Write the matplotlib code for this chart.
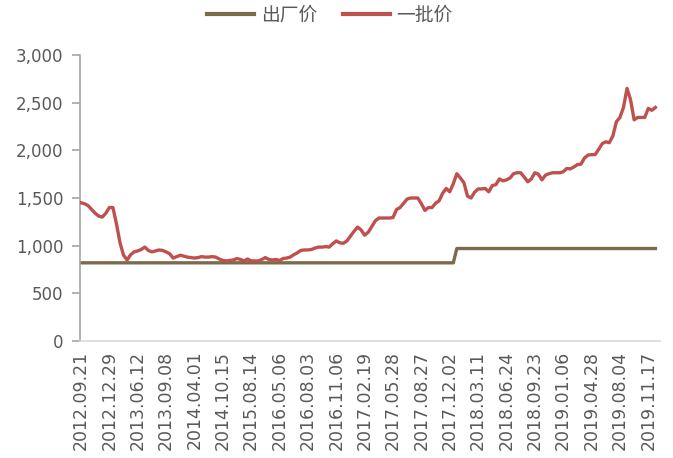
#! /usr/bin/env python

'''
Factory price vs. wholesale price, weekly series.
'''

import matplotlib
matplotlib.use('Agg')
import matplotlib.pyplot as plt

tick_labels = ['2012.09.21', '2012.12.29', '2013.06.12', '2013.09.08',
               '2014.04.01', '2014.10.15', '2015.08.14', '2016.05.06',
               '2016.08.03', '2016.11.06', '2017.02.19', '2017.05.28',
               '2017.08.27', '2017.12.02', '2018.03.11', '2018.06.24',
               '2018.09.23', '2019.01.06', '2019.04.28', '2019.08.04',
               '2019.11.17']
points_per_label = 8

wholesale = [
    1450, 1440, 1420, 1380, 1340, 1310, 1300, 1340, 1400, 1400,
    1230, 1030, 900, 850, 905, 935, 945, 960, 985, 950,
    935, 945, 955, 950, 935, 915, 870, 885, 900, 890,
    880, 875, 870, 875, 885, 880, 880, 885, 880, 860,
    845, 840, 845, 850, 865, 855, 840, 860, 840, 840,
    840, 855, 875, 855, 850, 855, 845, 865, 870, 880,
    905, 925, 950, 955, 955, 960, 975, 985, 985, 990,
    985, 1020, 1050, 1030, 1025, 1050, 1100, 1150, 1195, 1165,
    1110, 1140, 1200, 1260, 1290, 1290, 1290, 1290, 1295, 1380,
    1400, 1445, 1490, 1500, 1500, 1500, 1440, 1370, 1400, 1400,
    1445, 1470, 1550, 1600, 1565, 1650, 1755, 1710, 1660, 1520,
    1500, 1560, 1595, 1595, 1600, 1565, 1630, 1640, 1700, 1680,
    1690, 1710, 1755, 1765, 1765, 1720, 1670, 1700, 1765, 1750,
    1690, 1740, 1755, 1765, 1765, 1765, 1775, 1810, 1805, 1825,
    1850, 1855, 1920, 1950, 1955, 1955, 2010, 2070, 2090, 2080,
    2150, 2300, 2345, 2450, 2650, 2530, 2320, 2345, 2345, 2345,
    2440, 2420, 2450,
]

factory = [
    820, 820, 820, 820, 820, 820, 820, 820, 820, 820,
    820, 820, 820, 820, 820, 820, 820, 820, 820, 820,
    820, 820, 820, 820, 820, 820, 820, 820, 820, 820,
    820, 820, 820, 820, 820, 820, 820, 820, 820, 820,
    820, 820, 820, 820, 820, 820, 820, 820, 820, 820,
    820, 820, 820, 820, 820, 820, 820, 820, 820, 820,
    820, 820, 820, 820, 820, 820, 820, 820, 820, 820,
    820, 820, 820, 820, 820, 820, 820, 820, 820, 820,
    820, 820, 820, 820, 820, 820, 820, 820, 820, 820,
    820, 820, 820, 820, 820, 820, 820, 820, 820, 820,
    820, 820, 820, 820, 820, 820, 970, 970, 970, 970,
    970, 970, 970, 970, 970, 970, 970, 970, 970, 970,
    970, 970, 970, 970, 970, 970, 970, 970, 970, 970,
    970, 970, 970, 970, 970, 970, 970, 970, 970, 970,
    970, 970, 970, 970, 970, 970, 970, 970, 970, 970,
    970, 970, 970, 970, 970, 970, 970, 970, 970, 970,
    970, 970, 970,
]

TEXT = '#595959'
AXIS = '#a6a6a6'
BROWN = '#7a6a4e'
RED = '#c0504d'


def plot_prices():
    '''
    Draw both price series and save the figure.
    '''
    plt.rcParams['font.family'] = ['DejaVu Sans', 'Noto Sans CJK SC']
    fig = plt.figure(figsize=(6.73, 4.58), dpi=100)
    ax = fig.add_axes([80 / 673, 1 - 341 / 458, 580 / 673, 286 / 458])

    x = list(range(len(wholesale)))
    ax.plot(x, factory, color=BROWN, lw=2.4, label='出厂价', zorder=2)
    ax.plot(x, wholesale, color=RED, lw=2.4, label='一批价', zorder=3)

    ax.set_ylim(0, 3000)
    ax.set_yticks(range(0, 3001, 500))
    ax.set_yticklabels(['{:,}'.format(v) for v in range(0, 3001, 500)])
    ax.set_xlim(-0.28, 163.3)
    ax.set_xticks([i * points_per_label for i in range(len(tick_labels))])
    ax.set_xticklabels(tick_labels, rotation=90)

    for side in ('top', 'right'):
        ax.spines[side].set_visible(False)
    ax.spines['left'].set_color(AXIS)
    ax.spines['bottom'].set_color('#d9d9d9')
    ax.spines['left'].set_linewidth(1.2)
    ax.spines['bottom'].set_linewidth(1.2)
    ax.tick_params(axis='y', colors=AXIS, labelcolor=TEXT, labelsize=12,
                   length=6, width=1.2, pad=6)
    ax.tick_params(axis='x', length=0, labelcolor=TEXT, labelsize=12.5,
                   pad=7)

    leg = fig.legend(loc='center', bbox_to_anchor=(330 / 673, 1 - 15 / 458),
                     ncol=2, frameon=False, handlelength=2.5,
                     columnspacing=1.4, handletextpad=0.35,
                     prop={'family': 'Noto Sans CJK SC', 'size': 13.5})
    for t in leg.get_texts():
        t.set_color(TEXT)
    for h in leg.get_lines():
        h.set_linewidth(3)

    fig.savefig('out.png', dpi=100)


if __name__ == '__main__':
    plot_prices()
